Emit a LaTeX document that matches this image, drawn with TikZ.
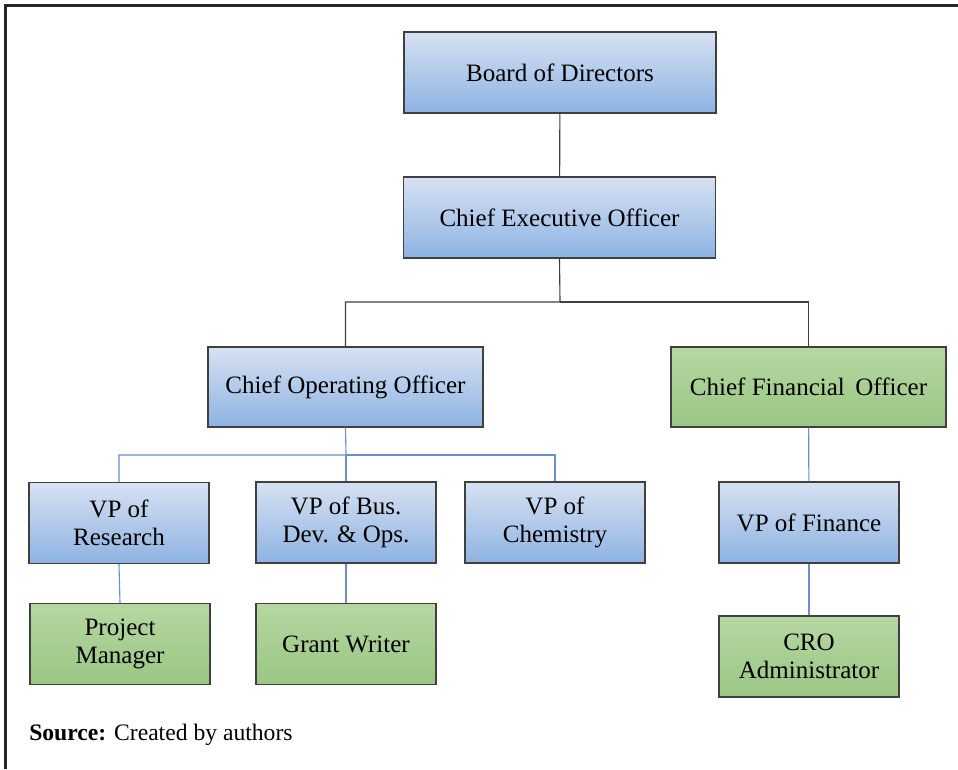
\documentclass[tikz,border=0pt]{standalone}
\usepackage{fontspec}
\setmainfont{Liberation Serif}
\usepackage{xcolor}
\usepackage{tikz}
\usetikzlibrary{positioning}
\definecolor{boxedge}{HTML}{404040}
\definecolor{bluetop}{HTML}{D7E1F2}
\definecolor{bluebot}{HTML}{8DB3E2}
\definecolor{greentop}{HTML}{B6D7A2}
\definecolor{greenbot}{HTML}{9AC683}
\definecolor{blueline}{HTML}{6A8ED0}

\begin{document}
\begin{tikzpicture}[x=0.025cm, y=-0.025cm,
    font=\rmfamily\fontsize{17.8}{19.5}\selectfont,
    orgbox/.style={draw=boxedge, line width=0.8pt, align=center, inner sep=0pt},
    bluebox/.style={orgbox, top color=bluetop, bottom color=bluebot},
    greenbox/.style={orgbox, top color=greentop, bottom color=greenbot},
    wide/.style={minimum width=7.8cm, minimum height=2.025cm},
    mid/.style={minimum width=6.875cm, minimum height=2cm},
    small/.style={minimum width=4.5cm, minimum height=2.025cm},
    topline/.style={draw=boxedge, line width=0.8pt},
    subline/.style={draw=blueline, line width=0.8pt}]
  \useasboundingbox (0,0) rectangle (958,769);

  % Page frame (top and left edge only)
  \draw[black!85, line width=2.2pt] (5.5,769) -- (5.5,5.5) -- (958,5.5);

  % Top of the chart
  \node[bluebox, wide] (board) at (560,72.5) {Board of Directors};
  \node[bluebox, wide] (ceo) at (559.5,217.5) {Chief Executive Officer};

  % Chiefs
  \node[bluebox, mid] (coo) at (345.5,387) {Chief Operating Officer};
  \node[greenbox, mid] (cfo) at (808.5,387) {Chief Financial\,\ Officer};

  % Vice presidents
  \node[bluebox, small] (vpres) at (119,523) {VP of\\Research};
  \node[bluebox, small] (vpbus) at (346,522.5) {VP of Bus.\\Dev. \& Ops.};
  \node[bluebox, small] (vpchem) at (555,522.5) {VP of\\Chemistry};
  \node[bluebox, small] (vpfin) at (809,522.5) {VP of Finance};

  % Staff
  \node[greenbox, small] (pm) at (120,644) {Project\\Manager};
  \node[greenbox, small] (gw) at (346,644) {Grant Writer};
  \node[greenbox, small] (cro) at (809,656.5) {CRO\\Administrator};

  % Connectors
  \coordinate (ceosplit) at (560,302);
  \coordinate (coosplit) at (346,455);
  \draw[topline] (board) -- (ceo);
  \draw[topline] (ceo.south) -- (ceosplit) -| (coo.north);
  \draw[topline] (ceosplit) -| (cfo.north);
  \draw[subline] (coo.south) -- (coosplit) -| (vpres.north);
  \draw[subline] (coosplit) -- (vpbus.north);
  \draw[subline] (coosplit) -| (vpchem.north);
  \draw[subline] (cfo) -- (vpfin);
  \draw[subline] (vpres.south) -- (pm.north);
  \draw[subline] (vpbus) -- (gw);
  \draw[subline] (vpfin) -- (cro);

  % Source line
  \node[anchor=base west, inner sep=0pt, font=\rmfamily\fontsize{16.8}{19}\selectfont]
    (source) at (29,740) {\textbf{Source:} Created by authors};
\end{tikzpicture}
\end{document}
